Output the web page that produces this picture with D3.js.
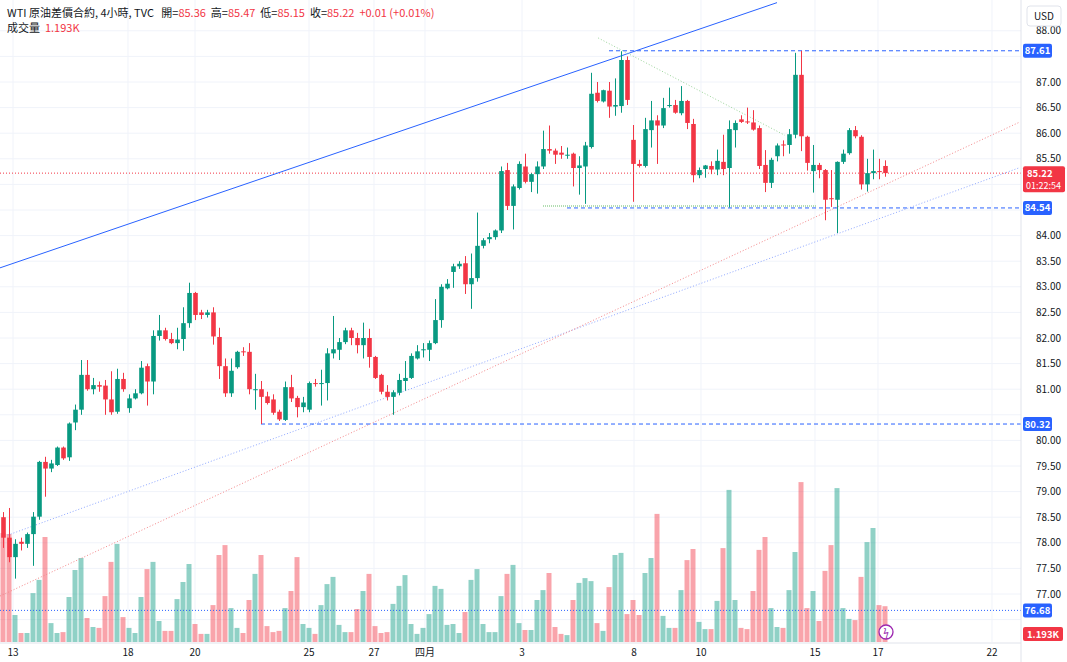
<!DOCTYPE html>
<html>
<head>
<meta charset="utf-8">
<script src="https://cdn.jsdelivr.net/npm/d3@7"></script>
<style>
  body { margin: 0; background: #fff; font-family: "Noto Sans CJK TC", "Noto Sans", sans-serif; }
  svg text { font-family: "Noto Sans CJK TC", "Noto Sans", sans-serif; }
</style>
</head>
<body>
<svg id="chart" width="1067" height="662"></svg>
<script>
// 4h bars, WTI
var opens = [78.5,78.1,77.72,78.02,77.98,78.17,78.51,79.58,79.45,79.52,79.86,79.67,80.35,80.6,81.28,81.0,81.08,81.07,80.8,80.56,81.2,80.63,80.82,80.92,81.45,81.15,82.04,82.15,81.98,81.9,81.98,82.29,82.88,82.5,82.45,82.5,82.02,81.45,80.92,81.43,81.74,81.73,80.98,81.0,80.86,80.8,80.56,80.4,81.04,80.83,80.65,80.6,81.12,81.1,81.12,81.7,81.77,81.92,82.15,82.0,81.86,82.0,81.63,81.28,80.95,80.85,80.93,81.16,81.22,81.6,81.76,81.77,81.9,82.35,82.97,83.29,83.4,83.46,83.05,83.17,83.8,83.93,83.97,84.1,85.28,84.58,84.93,85.35,85.05,85.2,85.35,85.69,85.66,85.62,85.56,85.6,85.32,85.35,85.73,86.79,86.62,86.83,86.52,86.53,87.43,85.87,85.4,85.36,86.06,86.25,86.15,86.53,86.55,86.39,86.63,86.18,85.18,85.3,85.36,85.29,85.44,85.32,86.06,86.27,86.23,86.21,86.1,85.38,85.03,85.55,85.78,85.77,85.97,87.14,85.93,85.26,85.38,85.28,84.73,84.7,85.44,85.61,86.06,85.93,85.0,85.22,85.26,85.36];
var highs = [78.6,78.68,78.07,78.1,78.2,78.6,79.6,79.68,79.62,79.88,79.88,80.35,80.7,81.57,81.57,81.22,81.15,81.18,81.35,81.4,81.32,80.9,81.0,81.55,81.5,82.15,82.45,82.2,82.1,82.2,82.6,83.08,82.9,82.55,82.55,82.6,82.2,81.6,81.6,81.75,81.82,81.9,81.3,81.16,80.95,80.9,80.6,81.15,81.28,80.87,80.85,81.15,81.2,81.38,81.8,82.43,82.0,82.2,82.2,82.1,82.3,82.18,81.65,81.3,81.08,80.98,81.3,81.55,81.7,81.86,81.9,81.95,82.76,83.05,83.15,83.45,83.5,83.6,83.65,84.45,83.95,84.05,84.12,85.35,85.42,85.0,85.45,85.6,85.22,85.45,86.05,86.15,85.7,85.75,85.72,85.62,85.55,85.83,87.18,87.0,86.85,87.0,87.07,87.6,87.5,86.16,85.48,86.3,86.63,86.35,86.69,86.89,86.65,86.92,86.65,86.28,85.33,85.38,85.45,85.68,85.97,86.25,86.25,86.35,86.5,86.45,86.15,85.67,85.52,85.8,85.86,86.08,87.57,87.61,85.95,85.77,85.42,85.3,85.28,85.45,85.68,86.1,86.14,85.96,85.5,85.68,85.5,85.47];
var lows = [77.9,77.62,77.3,77.85,77.9,77.55,78.45,78.9,79.38,79.5,79.62,79.6,80.2,80.5,80.97,80.9,80.95,80.5,80.5,80.52,80.95,80.54,80.8,80.9,80.68,80.9,81.95,81.95,81.88,81.78,81.75,82.2,82.35,82.37,82.4,81.87,81.2,80.85,80.85,81.4,81.65,80.9,80.6,80.32,80.7,80.5,80.38,80.38,80.75,80.45,80.55,80.55,81.05,80.68,80.78,81.6,81.57,81.88,81.86,81.7,81.6,81.42,81.2,80.9,80.78,80.5,80.88,80.97,81.2,81.58,81.62,81.55,81.88,82.2,82.95,82.98,83.35,82.86,82.57,83.1,83.75,83.85,83.92,84.05,84.5,84.12,84.9,85.02,84.85,84.82,85.3,85.6,85.4,85.5,85.5,84.96,84.8,84.62,85.7,86.6,86.6,86.3,86.34,86.4,86.55,84.66,85.33,85.33,85.72,85.4,86.1,86.5,86.38,86.35,86.08,85.04,85.12,85.13,85.2,85.18,85.18,84.55,85.72,86.2,86.18,86.05,85.3,84.85,84.93,85.45,85.55,85.6,85.9,85.65,85.27,84.84,85.12,84.3,84.56,84.05,85.4,85.58,85.9,84.9,84.86,85.1,85.1,85.15];
var closes = [78.1,77.72,77.98,77.98,78.17,78.51,79.58,79.45,79.55,79.86,79.65,80.33,80.6,81.28,81.0,81.08,81.05,80.8,80.55,81.2,81.0,80.82,80.92,81.42,81.15,82.04,82.15,81.98,81.9,81.97,82.29,82.88,82.45,82.45,82.5,82.03,81.45,80.92,81.36,81.73,81.72,81.0,81.0,80.85,80.73,80.54,80.41,81.04,80.82,80.65,80.74,81.12,81.1,81.12,81.7,81.78,81.92,82.15,82.0,81.86,82.0,81.63,81.22,80.95,80.85,80.94,81.18,81.22,81.65,81.74,81.78,81.9,82.35,83.0,83.06,83.4,83.45,83.05,83.17,83.8,83.91,83.97,84.1,85.26,84.58,84.96,85.4,85.05,85.2,85.35,85.69,85.66,85.58,85.58,85.58,85.32,85.37,85.76,86.77,86.63,86.84,86.52,86.55,87.43,86.65,85.4,85.36,86.08,86.25,86.15,86.49,86.55,86.4,86.63,86.2,85.18,85.28,85.37,85.29,85.46,85.3,86.08,86.2,86.22,86.21,86.07,85.36,85.03,85.48,85.76,85.76,85.98,87.14,85.94,85.42,85.38,85.28,84.7,84.72,85.44,85.6,86.06,85.94,85.0,85.22,85.26,85.24,85.22];
// volume, thousands
var volumes = [3.63,3.6,0.9,0.3,0.3,1.63,2.07,3.5,0.63,0.3,0.33,1.5,2.4,2.8,0.8,0.5,0.47,1.53,2.67,3.27,0.83,0.47,0.3,1.5,2.43,2.67,0.7,0.37,0.37,1.43,2.0,2.6,0.6,0.27,0.27,1.23,2.9,3.23,1.13,0.47,0.3,1.4,2.27,2.9,0.53,0.33,0.37,1.13,1.7,2.83,0.6,0.47,0.27,1.23,1.93,2.17,0.57,0.33,0.33,1.1,
  1.7,2.27,0.53,0.3,0.33,1.27,1.87,2.23,0.6,0.27,0.47,0.93,1.87,1.77,0.57,0.6,0.3,1.0,2.07,2.43,0.6,0.33,0.33,1.53,2.27,2.57,0.63,0.4,0.4,1.4,1.73,2.3,0.5,0.27,0.23,1.4,1.97,2.13,2.03,0.63,0.37,1.83,2.9,2.97,
  0.93,1.4,0.9,2.3,2.8,4.27,0.87,0.47,0.47,1.73,2.73,3.1,0.67,0.43,0.43,1.37,3.13,5.07,1.4,0.47,0.43,1.7,3.07,3.5,1.13,0.5,0.47,1.73,3.0,5.33,1.13,1.7,0.7,2.37,3.23,5.13,1.13,0.77,0.73,2.17,3.33,3.8,1.23,1.193];

var dateLabels = ["13","18","20","25","27","四月","3","8","10","15","17","22"];
var dateIndex = [1.67,20.83,32,51,61.83,70.33,86.5,105.17,116.33,135.33,145.83,164.83];
var priceTicks = d3.range(76.5, 88.01, 0.5);

// drawings: [i1, p1, i2, p2]
var trendLines = [
  { pts: [-0.5, 83.37, 129, 88.55], color: "#2962ff", dash: null, w: 1 },
  { pts: [0.8, 78.15, 169.5, 85.33], color: "#8fa8ff", dash: "1,2", w: 1 },
  { pts: [-0.5, 76.96, 169.5, 86.22], color: "#f4878a", dash: "1,2", w: 1 },
  { pts: [99.2, 87.86, 130.3, 85.96], color: "#9bd49a", dash: "1,2", w: 1 },
  { pts: [90, 84.58, 135.5, 84.58], color: "#9bd49a", dash: "1,1", w: 1.5 }
];
var levels = [
  { i: 101, p: 87.61 },
  { i: 94, p: 84.54 },
  { i: 43, p: 80.32 }
];

var W = 1067, H = 662, plotR = 1021, volBase = 642;
var svg = d3.select("#chart");
var x = d3.scaleLinear().domain([0, 169.5]).range([3, 1020]);
var y = d3.scaleLinear().domain([76.5, 88]).range([619.6, 30.8]);
var yv = d3.scaleLinear().domain([0, 6]).range([volBase, volBase - 180]);
var up = "#089981", down = "#f23645";
var last = closes[closes.length - 1];

svg.append("defs").append("clipPath").attr("id", "plot")
  .append("rect").attr("width", plotR).attr("height", volBase);

// grid
svg.append("g").selectAll("line").data(priceTicks).join("line")
  .attr("x1", 0).attr("x2", plotR).attr("y1", d => y(d)).attr("y2", d => y(d))
  .attr("stroke", "#f0f3fa");
svg.append("g").selectAll("line").data(dateIndex).join("line")
  .attr("x1", d => x(d)).attr("x2", d => x(d)).attr("y1", 0).attr("y2", volBase)
  .attr("stroke", "#f0f3fa");

var g = svg.append("g").attr("clip-path", "url(#plot)");

// volume
g.selectAll(".vol").data(volumes).join("rect")
  .attr("x", (d, i) => x(i) - 2.5).attr("width", 5)
  .attr("y", d => yv(d)).attr("height", d => volBase - yv(d))
  .attr("fill", (d, i) => closes[i] >= opens[i] ? up : down)
  .attr("opacity", 0.45);

// price lines
g.append("line").attr("x1", 0).attr("x2", plotR).attr("y1", y(last)).attr("y2", y(last))
  .attr("stroke", down).attr("stroke-dasharray", "1,2");
g.append("line").attr("x1", 0).attr("x2", plotR).attr("y1", y(76.68)).attr("y2", y(76.68))
  .attr("stroke", "#2962ff").attr("stroke-dasharray", "1,2");

trendLines.forEach(function(t) {
  g.append("line")
    .attr("x1", x(t.pts[0])).attr("y1", y(t.pts[1]))
    .attr("x2", x(t.pts[2])).attr("y2", y(t.pts[3]))
    .attr("stroke", t.color).attr("stroke-width", t.w)
    .attr("stroke-dasharray", t.dash);
});
levels.forEach(function(l) {
  g.append("line").attr("x1", x(l.i)).attr("x2", plotR)
    .attr("y1", y(l.p)).attr("y2", y(l.p))
    .attr("stroke", "#2962ff").attr("stroke-dasharray", "4,3");
});

// candles
var idx = d3.range(closes.length);
g.selectAll(".wick").data(idx).join("line")
  .attr("x1", i => x(i) + 0.5).attr("x2", i => x(i) + 0.5)
  .attr("y1", i => y(highs[i])).attr("y2", i => y(lows[i]))
  .attr("stroke", i => closes[i] >= opens[i] ? up : down);
g.selectAll(".body").data(idx).join("rect")
  .attr("x", i => x(i) - 1.8).attr("width", 4.6)
  .attr("y", i => y(Math.max(opens[i], closes[i])))
  .attr("height", i => Math.max(1, Math.abs(y(opens[i]) - y(closes[i]))))
  .attr("fill", i => closes[i] >= opens[i] ? up : down);

// right axis (tick labels hidden where a tag sits on top)
var tagY = levels.map(l => y(l.p)).concat([y(76.68), y(last), y(last) + 12]);
svg.append("line").attr("x1", plotR).attr("x2", plotR).attr("y1", 0).attr("y2", H).attr("stroke", "#e0e3eb");
svg.append("line").attr("x1", 0).attr("x2", plotR).attr("y1", volBase + 1).attr("y2", volBase + 1).attr("stroke", "#e0e3eb");
svg.append("g").selectAll("text")
  .data(priceTicks.filter(d => tagY.every(t => Math.abs(t - y(d)) > 11)))
  .join("text")
  .attr("x", 1036).attr("y", d => y(d) + 3.5).attr("font-size", 10).attr("fill", "#131722")
  .text(d => d.toFixed(2));

function tag(yy, txt, fill) {
  svg.append("rect").attr("x", 1023).attr("y", yy - 7).attr("width", 29).attr("height", 14)
    .attr("rx", 2).attr("fill", fill);
  svg.append("text").attr("x", 1037.5).attr("y", yy + 3.5).attr("font-size", 9.5)
    .attr("text-anchor", "middle")
    .attr("font-weight", "bold").attr("fill", "#fff").text(txt);
}
levels.forEach(l => tag(y(l.p), l.p.toFixed(2), "#2962ff"));
tag(y(76.68), "76.68", "#2962ff");
svg.append("rect").attr("x", 1023).attr("y", y(last) - 7).attr("width", 42).attr("height", 26)
  .attr("rx", 2).attr("fill", down);
svg.append("text").attr("x", 1027).attr("y", y(last) + 3.5).attr("font-size", 9.5)
  .attr("font-weight", "bold").attr("fill", "#fff").text(last.toFixed(2));
svg.append("text").attr("x", 1026).attr("y", y(last) + 15.5).attr("font-size", 9)
  .attr("fill", "#fff").text("01:22:54");
svg.append("rect").attr("x", 1023).attr("y", 627).attr("width", 40).attr("height", 14)
  .attr("rx", 2).attr("fill", down);
svg.append("text").attr("x", 1027).attr("y", 638).attr("font-size", 9.5)
  .attr("font-weight", "bold").attr("fill", "#fff").text("1.193K");

// USD button
svg.append("rect").attr("x", 1027).attr("y", 6).attr("width", 34).attr("height", 20)
  .attr("rx", 3).attr("fill", "#fff").attr("stroke", "#e0e3eb");
svg.append("text").attr("x", 1044).attr("y", 20).attr("text-anchor", "middle")
  .attr("font-size", 10).attr("fill", "#131722").text("USD");

// bottom axis
svg.append("g").selectAll("text").data(dateLabels).join("text")
  .attr("x", (d, i) => x(dateIndex[i])).attr("y", 656).attr("text-anchor", "middle")
  .attr("font-size", 10).attr("fill", "#131722").text(d => d);

// lightning icon
svg.append("circle").attr("cx", 886).attr("cy", 632).attr("r", 7)
  .attr("fill", "#fff").attr("stroke", "#9c27b0").attr("stroke-width", 1.3);
svg.append("text").attr("x", 886).attr("y", 636).attr("text-anchor", "middle")
  .attr("font-size", 10).attr("fill", "#9c27b0").text("ϟ");

// legend
var hdr = svg.append("text").attr("x", 7).attr("y", 17).attr("font-size", 11).attr("fill", "#131722")
  .attr("xml:space", "preserve").style("white-space", "pre");
hdr.append("tspan").text("WTI 原油差價合約, 4小時, TVC ");
[["開", "85.36"], ["高", "85.47"], ["低", "85.15"], ["收", "85.22"]].forEach(function(p) {
  hdr.append("tspan").text("  " + p[0] + "=");
  hdr.append("tspan").attr("fill", down).text(p[1]);
});
hdr.append("tspan").attr("fill", down).text("  +0.01 (+0.01%)");
var vl = svg.append("text").attr("x", 7).attr("y", 32).attr("font-size", 11).attr("fill", "#131722")
  .style("white-space", "pre");
vl.append("tspan").text("成交量  ");
vl.append("tspan").attr("fill", down).text("1.193K");
</script>
</body>
</html>
